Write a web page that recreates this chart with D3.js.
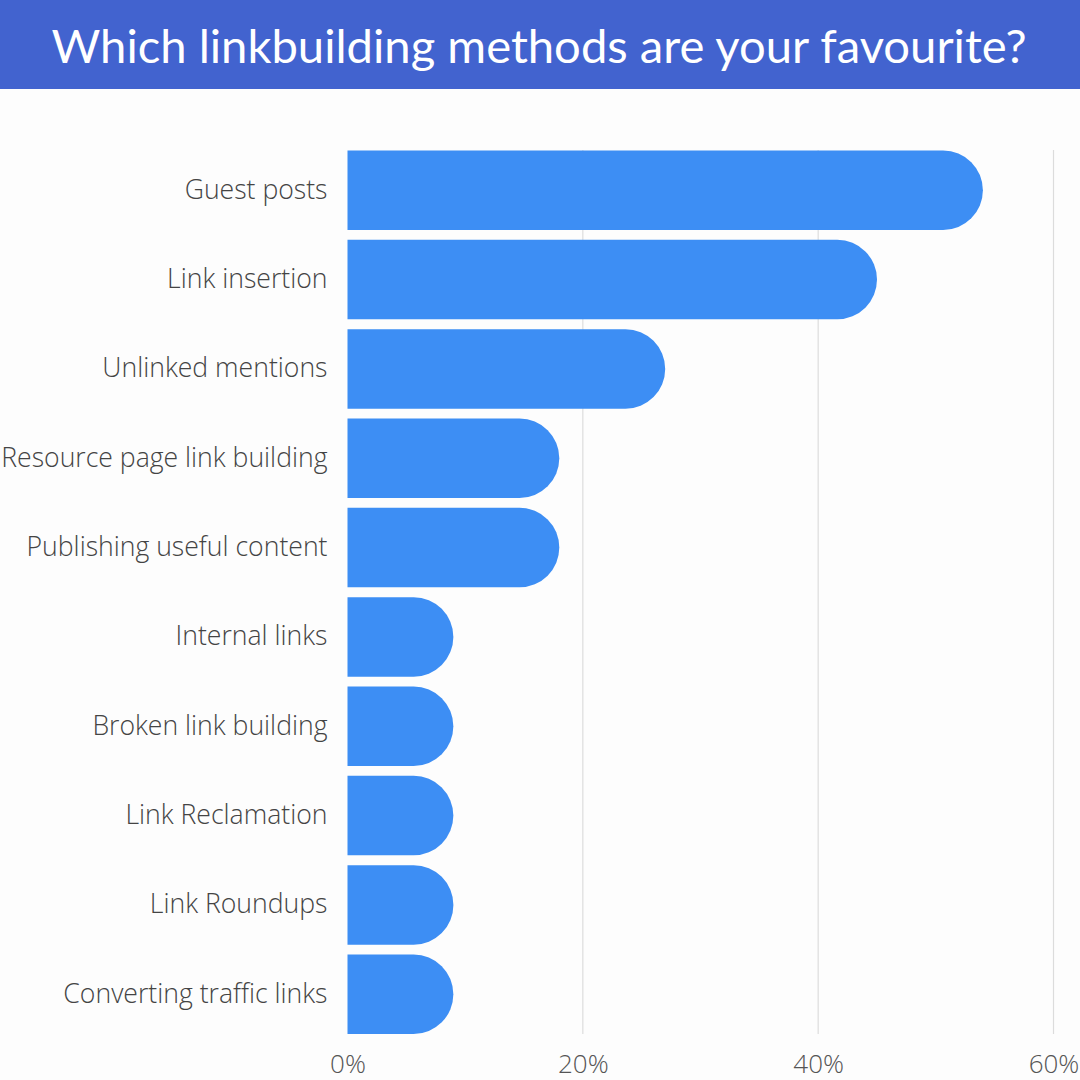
<!DOCTYPE html>
<html>
<head>
<meta charset="utf-8">
<script src="https://cdn.jsdelivr.net/npm/d3@7"></script>
<style>
  html, body { margin: 0; padding: 0; background: #fdfdfd; }
  svg { display: block; }
</style>
</head>
<body>
<script>
const title = "Which linkbuilding methods are your favourite?";
const categories = [
  "Guest posts",
  "Link insertion",
  "Unlinked mentions",
  "Resource page link building",
  "Publishing useful content",
  "Internal links",
  "Broken link building",
  "Link Reclamation",
  "Link Roundups",
  "Converting traffic links"
];
const values = [54, 45, 27, 18, 18, 9, 9, 9, 9, 9];
const tickValues = [0, 20, 40, 60];
const tickLabels = ["0%", "20%", "40%", "60%"];

const W = 1080, H = 1080;
const svg = d3.select("body").append("svg").attr("width", W).attr("height", H);

svg.append("rect").attr("width", W).attr("height", H).attr("fill", "#fdfdfd");

// Title banner
svg.append("rect").attr("x", 0).attr("y", 0).attr("width", W).attr("height", 89).attr("fill", "#4263cf");
svg.append("text")
  .attr("x", W / 2 - 1).attr("y", 63)
  .attr("text-anchor", "middle")
  .attr("font-family", "Lato, sans-serif")
  .attr("font-size", 47.2)
  .attr("fill", "#ffffff")
  .text(title);

const x = d3.scaleLinear().domain([0, 60]).range([347.5, 1053.5]);
const y = d3.scaleBand().domain(categories).range([150.5, 1034]).paddingInner(0.11).paddingOuter(0);

// gridlines
svg.append("g").selectAll("line")
  .data(tickValues.filter(d => d > 0))
  .join("line")
  .attr("x1", d => x(d)).attr("x2", d => x(d))
  .attr("y1", 150).attr("y2", 1034)
  .attr("stroke", "#dcdcdc").attr("stroke-width", 1.2);

// bars with rounded right end
const bw = y.bandwidth();
const r = bw / 2;
svg.append("g").selectAll("path")
  .data(categories.map((c, i) => ({c, v: values[i]})))
  .join("path")
  .attr("fill", "#3d8ef4")
  .attr("d", d => {
    const x0 = x(0), x1 = x(d.v), y0 = y(d.c), y1 = y0 + bw;
    const xr = Math.max(x0, x1 - r);
    return `M${x0},${y0}H${xr}A${r},${r} 0 0 1 ${xr},${y1}H${x0}Z`;
  });

// category labels
const yAxis = d3.axisLeft(y).tickSize(0).tickPadding(20);
const gy = svg.append("g").attr("transform", `translate(${x(0)},0)`).call(yAxis);
gy.select(".domain").remove();
gy.selectAll("text")
  .attr("font-family", "'Open Sans', sans-serif")
  .attr("font-weight", 300)
  .attr("font-size", 26.6)
  .attr("fill", "#444444");

// x axis ticks
const xAxis = d3.axisBottom(x).tickValues(tickValues).tickSize(0).tickPadding(0)
  .tickFormat((d, i) => tickLabels[i]);
const gx = svg.append("g").attr("transform", `translate(0,1055)`).call(xAxis);
gx.select(".domain").remove();
gx.selectAll("text")
  .attr("font-family", "'Open Sans', sans-serif")
  .attr("font-weight", 300)
  .attr("font-size", 26)
  .attr("fill", "#555555");
</script>
</body>
</html>
